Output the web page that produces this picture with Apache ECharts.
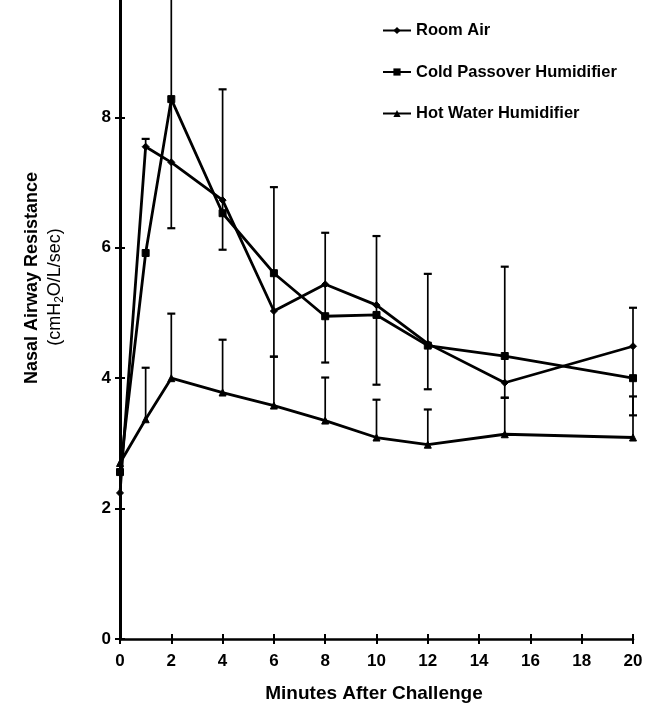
<!DOCTYPE html>
<html><head><meta charset="utf-8">
<script src="https://cdn.jsdelivr.net/npm/echarts@6/dist/echarts.min.js"></script>
<style>html,body{margin:0;padding:0;background:#fff}#c{width:646px;height:707px}</style>
</head><body><div id="c"></div>
<script>
// Data
const minutes = [0, 1, 2, 4, 6, 8, 10, 12, 15, 20];
const roomAir = [2.24, 7.55, 7.31, 6.73, 5.03, 5.44, 5.12, 4.53, 3.93, 4.49];
const coldPassover = [2.56, 5.92, 8.28, 6.53, 5.61, 4.95, 4.97, 4.50, 4.34, 4.00];
const hotWater = [2.70, 3.37, 4.00, 3.78, 3.58, 3.35, 3.09, 2.98, 3.14, 3.09];
// error bar ends (upper caps / lower caps) for Room Air & Cold Passover, upper caps for Hot Water
const pairSdHigh = [null, 7.67, 10.5, 8.43, 6.93, 6.23, 6.18, 5.60, 5.71, 5.08];
const pairSdLow = [null, null, 6.30, 5.97, 4.33, 4.24, 3.90, 3.83, 3.70, 3.43];
const hotSdHigh = [null, 4.16, 4.99, 4.59, 4.33, 4.01, 3.67, 3.52, 3.70, 3.72];
const xTicks = [0, 2, 4, 6, 8, 10, 12, 14, 16, 18, 20];
const yTicks = [0, 2, 4, 6, 8];
const seriesNames = ['Room Air', 'Cold Passover Humidifier', 'Hot Water Humidifier'];

const FONT = '"Liberation Sans", Arial, Helvetica, sans-serif';

const pairBars = [];
const hotBars = [];
minutes.forEach((m, i) => {
  if (pairSdHigh[i] != null) {
    const lo = pairSdLow[i] != null ? pairSdLow[i] : roomAir[i];
    pairBars.push([m, lo, pairSdHigh[i], pairSdLow[i] != null ? 1 : 0, 1]);
  }
  if (hotSdHigh[i] != null) hotBars.push([m, hotWater[i], hotSdHigh[i], 0, 1]);
});

function barItem(params, api) {
  const x = api.value(0), lo = api.value(1), hi = api.value(2);
  const capLo = api.value(3), capHi = api.value(4);
  const pLo = api.coord([x, lo]), pHi = api.coord([x, hi]);
  const w = 4;
  const st = { stroke: '#000', lineWidth: 1.7 };
  const children = [{ type: 'line', shape: { x1: pLo[0], y1: pLo[1], x2: pHi[0], y2: pHi[1] }, style: st }];
  if (capHi) children.push({ type: 'line', shape: { x1: pHi[0] - w, y1: pHi[1], x2: pHi[0] + w, y2: pHi[1] }, style: { stroke: '#000', lineWidth: 2.2 } });
  if (capLo) children.push({ type: 'line', shape: { x1: pLo[0] - w, y1: pLo[1], x2: pLo[0] + w, y2: pLo[1] }, style: { stroke: '#000', lineWidth: 2.2 } });
  return { type: 'group', children };
}

function lineSeries(name, vals, symbol, size) {
  return {
    name, type: 'line', xAxisIndex: 0, yAxisIndex: 0,
    data: minutes.map((m, i) => [m, vals[i]]),
    symbol, symbolSize: size, showSymbol: true,
    lineStyle: { color: '#000', width: 2.8 },
    itemStyle: { color: '#000', borderColor: '#000' },
    z: 3, animation: false
  };
}

const chart = echarts.init(document.getElementById('c'), null, { renderer: 'canvas' });
const common = { min: 0, type: 'value', gridIndex: 0 };
chart.setOption({
  backgroundColor: '#fff',
  animation: false,
  grid: { left: 120, right: 13, top: 0, bottom: 68, outerBoundsMode: 'none', containLabel: false },
  xAxis: [
    Object.assign({}, common, {
      max: 20, interval: 2, position: 'bottom',
      axisLine: { show: true, onZero: false, lineStyle: { color: '#000', width: 2.6 } },
      axisTick: { show: true, length: 5, customValues: xTicks, lineStyle: { color: '#000', width: 2 } },
      axisLabel: { customValues: xTicks, margin: 14, color: '#000', fontFamily: FONT, fontWeight: 'bold', fontSize: 17 },
      splitLine: { show: false }
    }),
    Object.assign({}, common, {
      max: 20, interval: 2, position: 'top',
      axisLine: { show: false, onZero: true },
      axisTick: { show: true, length: 5, customValues: xTicks, lineStyle: { color: '#000', width: 2 } },
      axisLabel: { show: false },
      splitLine: { show: false }
    })
  ],
  yAxis: [
    Object.assign({}, common, {
      max: 9.8, interval: 2, position: 'left',
      axisLine: { show: true, onZero: false, lineStyle: { color: '#000', width: 3 } },
      axisTick: { show: true, length: 5, customValues: yTicks, lineStyle: { color: '#000', width: 2 } },
      axisLabel: { customValues: yTicks, margin: 9, color: '#000', fontFamily: FONT, fontWeight: 'bold', fontSize: 17 },
      splitLine: { show: false }
    }),
    Object.assign({}, common, {
      max: 9.8, interval: 2, position: 'right',
      axisLine: { show: false, onZero: true },
      axisTick: { show: true, length: 5, customValues: yTicks, lineStyle: { color: '#000', width: 2 } },
      axisLabel: { show: false },
      splitLine: { show: false }
    })
  ],
  legend: {
    orient: 'vertical', left: 382, top: 22, padding: 0, itemWidth: 28, itemHeight: 9, itemGap: 24.5,
    data: seriesNames,
    textStyle: { color: '#000', fontFamily: FONT, fontWeight: 'bold', fontSize: 16.5, lineHeight: 16 },
    selectedMode: false
  },
  series: [
    {
      type: 'custom', name: 'pairSD', xAxisIndex: 0, yAxisIndex: 0, renderItem: barItem,
      data: pairBars, encode: { x: 0, y: [1, 2] }, z: 2, silent: true, clip: false
    },
    {
      type: 'custom', name: 'hotSD', xAxisIndex: 0, yAxisIndex: 0, renderItem: barItem,
      data: hotBars, encode: { x: 0, y: [1, 2] }, z: 2, silent: true, clip: false
    },
    lineSeries(seriesNames[0], roomAir, 'diamond', 7),
    lineSeries(seriesNames[1], coldPassover, 'rect', 7),
    lineSeries(seriesNames[2], hotWater, 'triangle', 7)
  ],
  graphic: [
    {
      type: 'text', x: 374, y: 694, silent: true,
      style: { text: 'Minutes After Challenge', font: 'bold 19px ' + FONT, fill: '#000', align: 'center', verticalAlign: 'middle', textAlign: 'center', textVerticalAlign: 'middle' }
    },
    {
      type: 'text', x: 32, y: 278, rotation: Math.PI / 2, silent: true,
      style: { text: 'Nasal Airway Resistance', font: 'bold 18px ' + FONT, fill: '#000', align: 'center', verticalAlign: 'middle', textAlign: 'center', textVerticalAlign: 'middle' }
    },
    {
      type: 'text', x: 55, y: 287, rotation: Math.PI / 2, silent: true,
      style: {
        text: '{a|(cmH}{b|2}{a|O/L/sec)}', fill: '#000', align: 'center', verticalAlign: 'middle', textAlign: 'center', textVerticalAlign: 'middle',
        rich: {
          a: { font: '18px ' + FONT, fill: '#000', lineHeight: 20, verticalAlign: 'middle' },
          b: { font: '12px ' + FONT, fill: '#000', lineHeight: 20, padding: [9, 0, 0, 0], verticalAlign: 'middle' }
        }
      }
    }
  ]
});
</script>
</body></html>
